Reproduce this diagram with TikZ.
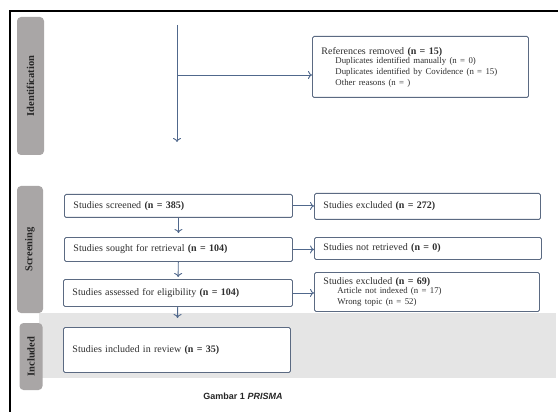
\documentclass[tikz,border=0pt]{standalone}
\usepackage{fontspec}
\setmainfont{Liberation Serif}
\newfontfamily\capfont{Liberation Sans}
\usetikzlibrary{arrows.meta}
\definecolor{labcol}{HTML}{A9A6A6}
\definecolor{bandcol}{HTML}{E5E5E5}
\definecolor{boxcol}{HTML}{5B6A82}
\definecolor{arrcol}{HTML}{50688C}
\definecolor{txtcol}{HTML}{2E2E2E}
\newcommand\mainsz{\fontsize{10}{11}\selectfont}
\newcommand\subsz{\fontsize{8.8}{10}\selectfont}
\begin{document}
\begin{tikzpicture}[x=1pt,y=-1pt,
  lab/.style={fill=labcol, rounded corners=4pt, rotate=90, inner sep=0pt,
    font=\fontsize{10.5}{12}\selectfont\bfseries, text=black!85},
  pbox/.style={draw=boxcol, line width=0.9pt, rounded corners=1.5pt, fill=white,
    anchor=north west, inner xsep=9pt, inner ysep=2pt, align=left,
    font=\mainsz, text=txtcol},
  arr/.style={draw=arrcol, line width=0.9pt, -{To[length=4pt,width=8pt]}}]
\useasboundingbox (0,0) rectangle (558,412);
% frame
\draw[line width=2pt] (10,412) -- (10,11) -- (558,11);
% band
\fill[bandcol] (39,313) rectangle (556,378);
% phase labels
\node[lab, minimum width=138pt, minimum height=27pt] (lid) at (30.5,86) {Identification};
\node[lab, minimum width=127pt, minimum height=26pt] (lsc) at (30,249.5) {Screening};
\node[lab, minimum width=67pt, minimum height=23pt] (lin) at (31,356.5) {Included};
% boxes
\node[pbox, text width=198pt, minimum height=61pt] (refs) at (312,36)
  {{\mainsz References removed \textbf{(n = 15)}}\\[-2pt]
   {\subsz\hspace*{14pt}Duplicates identified manually (n = 0)}\\
   {\subsz\hspace*{14pt}Duplicates identified by Covidence (n = 15)}\\
   {\subsz\hspace*{14pt}Other reasons (n = )}};
\node[pbox, text width=210pt, minimum height=23pt] (scr) at (64,194) {Studies screened \textbf{(n = 385)}};
\node[pbox, text width=210pt, minimum height=24pt] (sou) at (64,237) {Studies sought for retrieval \textbf{(n = 104)}};
\node[pbox, text width=211pt, minimum height=27pt] (ass) at (63,279) {Studies assessed for eligibility \textbf{(n = 104)}};
\node[pbox, text width=209pt, minimum height=45pt] (inc) at (63,327) {Studies included in review \textbf{(n = 35)}};
\node[pbox, text width=208pt, minimum height=26pt] (ex1) at (314,193) {Studies excluded \textbf{(n = 272)}};
\node[pbox, text width=209pt, minimum height=22pt] (ret) at (314,237) {Studies not retrieved \textbf{(n = 0)}};
\node[pbox, text width=207pt, minimum height=39pt] (ex2) at (314,272)
  {{\mainsz Studies excluded \textbf{(n = 69)}}\\[-1.5pt]
   {\subsz\hspace*{14pt}Article not indexed (n = 17)}\\
   {\subsz\hspace*{14pt}Wrong topic (n = 52)}};
% identification arrows
\coordinate (idtop) at (177,25);
\coordinate (idbot) at (177,142);
\coordinate (branch) at (177,75);
\draw[arr] (idtop) -- (idbot);
\draw[arr] (branch) -- (branch -| refs.west);
% screening arrows
\draw[arr, shorten >=4pt] (scr) -- (sou);
\draw[arr, shorten >=2pt] (sou) -- (ass);
\draw[arr, shorten >=9pt] (ass) -- (inc);
\draw[arr] (scr.east) -- (scr.east -| ex1.west);
\draw[arr] (sou.east) -- (sou.east -| ret.west);
\draw[arr] (ass.east) -- (ass.east -| ex2.west);
% caption
\node[font=\capfont\bfseries\fontsize{9}{10}\selectfont, text=black!85] (cap) at (243,396) {Gambar 1 \textit{PRISMA}};
\end{tikzpicture}
\end{document}
